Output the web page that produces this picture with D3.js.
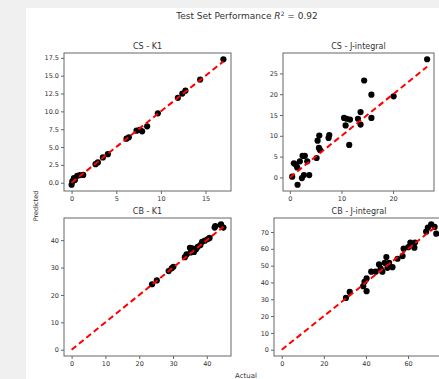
<!DOCTYPE html>
<html>
<head>
<meta charset="utf-8">
<script src="https://cdn.jsdelivr.net/npm/d3@7"></script>
<style>
  body { margin: 0; background: #f0f0f0; }
  text { font-family: "DejaVu Sans", sans-serif; fill: #333; }
</style>
</head>
<body>
<div id="chart"></div>
<script>
// values
var titles = ["CS - K1", "CS - J-integral", "CB - K1", "CB - J-integral"];

var csK1Actual = [0, 0.08, 0.26, 0.37, 0.63, 0.93, 1.3, 2.68, 2.94, 3.5, 4.06, 6.15, 6.41, 7.27, 7.64, 7.9, 8.46, 9.66, 11.9, 12.4, 12.75, 14.4, 17.0];
var csK1Pred   = [-0.28, 0.18, 0.66, 0.37, 0.98, 1.07, 1.1, 2.6, 2.85, 3.55, 4.0, 6.17, 6.36, 7.3, 7.4, 7.2, 7.9, 9.73, 11.9, 12.5, 12.9, 14.45, 17.3];

var csJActual = [0.45, 0.78, 1.17, 1.42, 1.49, 1.94, 2.46, 2.9, 2.33, 2.72, 3.37, 3.75, 5.18, 5.37, 5.7, 5.63, 5.83, 7.5, 7.64, 10.5, 11.0, 10.8, 11.65, 11.5, 13.2, 13.7, 13.7, 14.4, 15.8, 15.8, 20.1, 26.6];
var csJPred   = [0.17, 3.4, 3.06, 2.4, -1.76, 3.86, 5.2, 5.2, -0.15, 0.57, 3.86, 0.57, 4.67, 8.84, 10.05, 7.08, 6.6, 9.49, 10.2, 14.3, 14.1, 12.5, 13.9, 7.8, 14.1, 15.7, 12.7, 23.3, 19.9, 14.3, 19.5, 28.4];

var cbK1Actual = [23.8, 25.2, 28.7, 29.6, 30.1, 33.5, 34.0, 35.0, 35.7, 35.2, 36.2, 36.8, 37.3, 38.1, 38.6, 39.4, 40.3, 40.8, 42.3, 42.5, 44.2, 44.1, 44.9];
var cbK1Pred   = [23.9, 25.3, 28.7, 29.7, 30.3, 33.8, 34.8, 37.2, 37.0, 35.5, 35.7, 36.7, 37.6, 38.2, 39.4, 39.8, 40.4, 40.8, 44.6, 45.1, 45.8, 45.5, 44.6];

var cbJActual = [30.5, 32.3, 38.7, 39.3, 40.3, 40.3, 42.5, 44.6, 46.2, 47.0, 47.8, 48.9, 49.7, 50.2, 51.0, 52.6, 55.0, 57.4, 57.9, 60.1, 61.1, 63.3, 63.0, 68.6, 71.0, 72.6, 73.4, 69.4];
var cbJPred   = [30.8, 34.4, 37.8, 40.4, 42.4, 34.8, 46.4, 46.4, 50.7, 48.3, 46.4, 51.7, 55.1, 48.7, 51.7, 49.1, 54.1, 55.7, 60.1, 61.0, 63.7, 63.7, 60.7, 70.2, 74.6, 73.0, 69.0, 72.6];

var xTicks = [[0, 5, 10, 15], [0, 10, 20], [0, 10, 20, 30, 40], [0, 20, 40, 60]];
var yTicks = [[0, 2.5, 5, 7.5, 10, 12.5, 15, 17.5], [0, 5, 10, 15, 20, 25], [0, 10, 20, 30, 40], [0, 10, 20, 30, 40, 50, 60, 70]];
var yFormats = [".1f", "d", "d", "d"];

var panels = [
  {actual: csK1Actual, pred: csK1Pred, box: [64, 53, 231, 191]},
  {actual: csJActual,  pred: csJPred,  box: [283, 53, 434, 191]},
  {actual: cbK1Actual, pred: cbK1Pred, box: [64, 218, 231, 356]},
  {actual: cbJActual,  pred: cbJPred,  box: [274, 218, 444, 356]}
];

var svg = d3.select("#chart").append("svg")
    .attr("width", 439)
    .attr("height", 379)
    .style("display", "block");

svg.append("rect")
    .attr("x", 26).attr("y", 8)
    .attr("width", 413).attr("height", 371)
    .attr("fill", "white");

svg.append("text")
    .attr("x", 247).attr("y", 19)
    .attr("text-anchor", "middle")
    .style("font-size", "9px")
    .html('Test Set Performance <tspan font-style="italic">R</tspan><tspan dy="-3.5" style="font-size:6px">2</tspan><tspan dy="3.5"> = 0.92</tspan>');

// matplotlib-like 5% padding
function padded(vals) {
  var ext = d3.extent(vals);
  var p = (ext[1] - ext[0]) * 0.05;
  return [ext[0] - p, ext[1] + p];
}

panels.forEach(function (p, i) {
  var b = p.box;
  var lineEnd = d3.max(p.actual);
  var x = d3.scaleLinear().domain(padded(p.actual.concat([0, lineEnd]))).range([b[0], b[2]]);
  var y = d3.scaleLinear().domain(padded(p.pred.concat([0, lineEnd]))).range([b[3], b[1]]);

  var g = svg.append("g");

  var pts = p.actual.map(function (a, j) { return {a: a, p: p.pred[j]}; });
  g.selectAll("circle")
      .data(pts)
      .enter()
      .append("circle")
      .attr("cx", d => x(d.a))
      .attr("cy", d => y(d.p))
      .attr("r", 3.1)
      .attr("fill", "black");

  g.append("line")
      .attr("x1", x(0)).attr("y1", y(0))
      .attr("x2", x(lineEnd)).attr("y2", y(lineEnd))
      .attr("stroke", "red")
      .attr("stroke-width", 2)
      .attr("stroke-dasharray", "6,3.5");

  g.append("rect")
      .attr("x", b[0]).attr("y", b[1])
      .attr("width", b[2] - b[0]).attr("height", b[3] - b[1])
      .attr("fill", "none")
      .attr("stroke", "#666")
      .attr("stroke-width", 1);

  var xa = g.append("g")
      .attr("transform", `translate(0, ${b[3]})`)
      .call(d3.axisBottom(x).tickValues(xTicks[i]).tickFormat(d3.format("d")).tickSize(3).tickPadding(2));
  var ya = g.append("g")
      .attr("transform", `translate(${b[0]}, 0)`)
      .call(d3.axisLeft(y).tickValues(yTicks[i]).tickFormat(d3.format(yFormats[i])).tickSize(3).tickPadding(2));

  [xa, ya].forEach(function (ax) {
    ax.select(".domain").remove();
    ax.selectAll("line").attr("stroke", "#666");
    ax.selectAll("text").style("font-size", "6.5px").attr("fill", "#333");
  });

  svg.append("text")
      .attr("x", (b[0] + b[2]) / 2)
      .attr("y", b[1] - 4)
      .attr("text-anchor", "middle")
      .style("font-size", "8px")
      .text(titles[i]);
});

svg.append("text")
    .attr("transform", "translate(38, 206) rotate(-90)")
    .attr("text-anchor", "middle")
    .style("font-size", "6.5px")
    .text("Predicted");

svg.append("text")
    .attr("x", 246).attr("y", 378)
    .attr("text-anchor", "middle")
    .style("font-size", "7px")
    .text("Actual");
</script>
</body>
</html>
